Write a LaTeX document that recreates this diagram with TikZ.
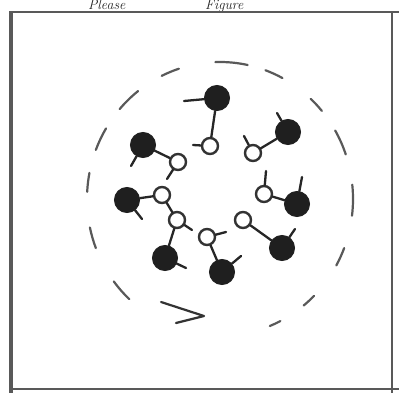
\documentclass[tikz,border=0pt]{standalone}
\begin{document}
\begin{tikzpicture}[x=1pt,y=-1pt,
  blk/.style={circle,fill=black!88,draw=black!88,line width=1pt,minimum size=25pt,inner sep=0pt},
  opn/.style={circle,draw=black!80,line width=2.4pt,minimum size=16pt,inner sep=0pt},
  bond/.style={draw=black!85,line width=2.3pt,line cap=round},
  rim/.style={draw=black!65,line width=2.2pt,line cap=round,line join=round},
  frame/.style={draw=black!65,line width=2.5pt},
  hand/.style={anchor=base west,text=black!85,font=\itshape\fontsize{14}{14}\selectfont,inner sep=0pt}]
\useasboundingbox (0,0) rectangle (399,393);
\clip (0,0) rectangle (399,393);
\fill[white] (0,0) rectangle (399,393);
% handwriting at top
\node[hand] (t1) at (88,9.8) {Please};
\node[hand] (t2) at (205,9.8) {Figure};
% frame
\draw[frame,line width=3.2pt] (11,393) -- (11,12);
\draw[frame] (9,12) -- (399,12);
\draw[frame,line width=1.6pt] (392,12) -- (392,393);
\draw[frame,line width=1.8pt] (11,389) -- (399,389);
% dashed ring
\coordinate (ctr) at (220,199);
\foreach \a/\b in {-177/-169,-159/-149,-139/-128,-116/-108,-92/-78,-70/-62,-47/-40,-30/-19,-6/7,21/29,45/51,63/68,133/143,159/168}
  \draw[rim] (ctr) ++(\a:133 and 137) arc[start angle=\a,end angle=\b,x radius=133,y radius=137];
% arrow
\coordinate (ar0) at (161,302);
\coordinate (ar1) at (204,316);
\coordinate (ar2) at (176,323);
\draw[rim,draw=black!80] (ar0) -- (ar1) -- (ar2);
% black heads
\node[blk] (A) at (217,98) {};
\node[blk] (C) at (143,145) {};
\node[blk] (E) at (288,132) {};
\node[blk] (H) at (297,204) {};
\node[blk] (J) at (282,248) {};
\node[blk] (P) at (222,272) {};
\node[blk] (N) at (165,258) {};
\node[blk] (K) at (127,200) {};
% open rings
\node[opn] (B) at (210,146) {};
\node[opn] (D) at (178,162) {};
\node[opn] (F) at (253,153) {};
\node[opn] (G) at (264,194) {};
\node[opn] (I) at (243,220) {};
\node[opn] (O) at (207,237) {};
\node[opn] (M) at (177,220) {};
\node[opn] (L) at (162,195) {};
% bonds
\draw[bond] (A) -- (B);
\draw[bond] (C) -- (D);
\draw[bond] (E) -- (F);
\draw[bond] (G) -- (H);
\draw[bond] (I) -- (J);
\draw[bond] (O) -- (P);
\draw[bond] (M) -- (N);
\draw[bond] (K) -- (L);
\draw[bond] (L) -- (M);
% stubs
\coordinate (a1) at (184,101);
\coordinate (b1) at (193,145);
\coordinate (c1) at (131,166);
\coordinate (d1) at (167,179);
\coordinate (e1) at (277,113);
\coordinate (f1) at (244,136);
\coordinate (g1) at (266,171);
\coordinate (h1) at (302,177);
\coordinate (j1) at (295,229);
\coordinate (o1) at (226,232);
\coordinate (p1) at (241,256);
\coordinate (m1) at (192,230);
\coordinate (n1) at (186,268);
\coordinate (k1) at (142,219);
\draw[bond] (A) -- (a1);
\draw[bond] (B) -- (b1);
\draw[bond] (C) -- (c1);
\draw[bond] (D) -- (d1);
\draw[bond] (E) -- (e1);
\draw[bond] (F) -- (f1);
\draw[bond] (G) -- (g1);
\draw[bond] (H) -- (h1);
\draw[bond] (J) -- (j1);
\draw[bond] (O) -- (o1);
\draw[bond] (P) -- (p1);
\draw[bond] (M) -- (m1);
\draw[bond] (N) -- (n1);
\draw[bond] (K) -- (k1);
\end{tikzpicture}
\end{document}
